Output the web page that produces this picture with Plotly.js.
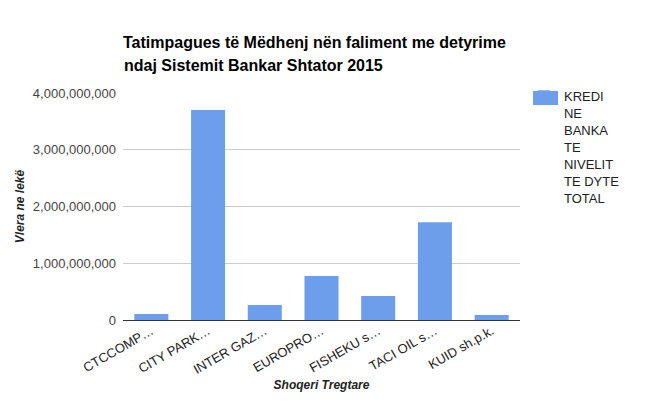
<!DOCTYPE html>
<html><head><meta charset="utf-8">
<script src="https://cdn.plot.ly/plotly-3.0.1.min.js"></script>
<style>html,body{margin:0;padding:0;background:#fff}#chart{width:653px;height:401px}</style>
</head><body><div id="chart"></div>
<script>
const categories = ["CTCCOMP…", "CITY PARK…", "INTER GAZ…", "EUROPRO…", "FISHEKU s…", "TACI OIL s…", "KUID sh.p.k."];
const krediValues = [106000000, 3700000000, 265000000, 776000000, 423000000, 1723000000, 88000000];
const seriesName = "KREDI<br>NE<br>BANKA<br>TE<br>NIVELIT<br>TE DYTE<br>TOTAL";
const yTicks = [0, 1000000000, 2000000000, 3000000000, 4000000000];
const titleLines = ["Tatimpagues të Mëdhenj nën faliment me detyrime", "ndaj Sistemit Bankar Shtator 2015"];
const barColor = '#6d9eeb';

const trace = {
  type: 'bar', x: categories, y: krediValues, name: seriesName,
  marker: {color: barColor}, showlegend: true, hoverinfo: 'x+y'
};
const layout = {
  width: 653, height: 401,
  margin: {l: 123, r: 133, t: 93, b: 81},
  paper_bgcolor: '#fff', plot_bgcolor: '#fff',
  font: {family: 'Arial, Liberation Sans, sans-serif', size: 13, color: '#222'},
  title: {text: titleLines[0],
    font: {size: 16, color: '#000', weight: 'bold'}, xref: 'paper', x: 0, xanchor: 'left',
    yref: 'container', y: 1 - 37/401, yanchor: 'top'},
  annotations: [{text: '<b>' + titleLines[1] + '</b>', xref: 'paper', yref: 'paper', x: 0, xanchor: 'left',
    y: 1 + (93 - 55) / 227, yanchor: 'top', showarrow: false, xshift: -1,
    font: {size: 16, color: '#000'}}],
  shapes: [{type: 'rect', xref: 'paper', yref: 'paper', layer: 'above',
    x0: (533 - 123) / 397, x1: (558 - 123) / 397, y0: (320 - 105) / 227, y1: (320 - 91) / 227,
    fillcolor: barColor, line: {width: 0}}],
  bargap: 0.4,
  xaxis: {type: 'category', tickangle: -30, tickfont: {size: 13, color: '#222'},
    showgrid: false, showline: false, ticks: '', automargin: false,
    title: {text: '<i><b>Shoqeri Tregtare</b></i>', font: {size: 12, color: '#222'}, standoff: 4}},
  yaxis: {range: [0, 4000000000], tickvals: yTicks, tickformat: ',d', tickfont: {size: 13, color: '#444'},
    gridcolor: '#cccccc', zeroline: true, zerolinecolor: '#333', zerolinewidth: 1, showline: false,
    ticks: '', ticklabelstandoff: 6, automargin: false,
    title: {text: '<i><b>Vlera ne lekë</b></i>', font: {size: 12, color: '#222'}, standoff: 5}},
  legend: {x: 1.01, xanchor: 'left', y: 1.051, yanchor: 'top', valign: 'top', font: {size: 13, color: '#222'},
    bgcolor: 'rgba(0,0,0,0)', tracegroupgap: 0}
};
Plotly.newPlot('chart', [trace], layout, {displayModeBar: false, staticPlot: true});
</script></body></html>
